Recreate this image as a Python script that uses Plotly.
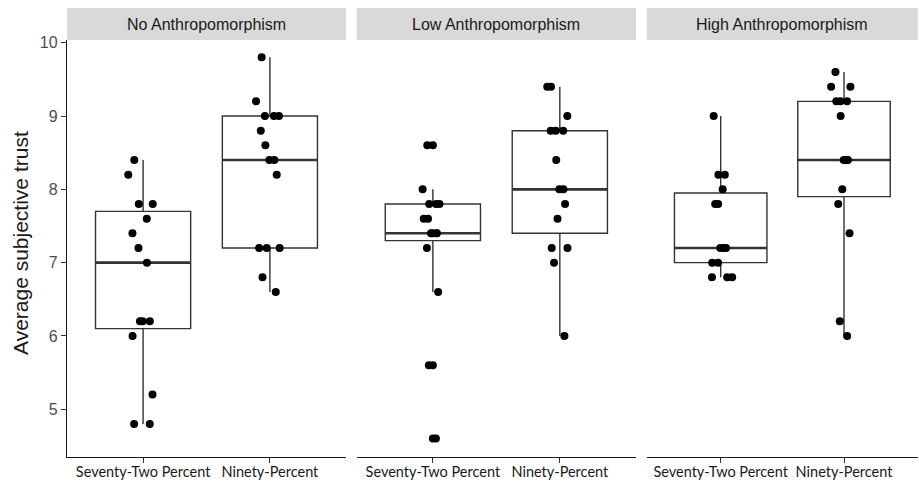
import numpy as np
import plotly.graph_objects as go

# Facets and the two feedback conditions shown in each facet
panels = ["No Anthropomorphism", "Low Anthropomorphism", "High Anthropomorphism"]
conditions = ["Seventy-Two Percent", "Ninety-Percent"]
y_ticks = [5, 6, 7, 8, 9, 10]

# Average subjective trust per participant
no_seventy_two = [8.4, 8.2, 7.8, 7.8, 7.6, 7.4, 7.2, 7.0, 6.2, 6.2, 6.2, 6.0, 5.2, 4.8, 4.8]
no_ninety = [9.8, 9.2, 9.0, 9.0, 9.0, 8.8, 8.6, 8.4, 8.4, 8.2, 7.2, 7.2, 7.2, 6.8, 6.6]
low_seventy_two = [8.6, 8.0, 7.8, 7.8, 7.8, 7.6, 7.6, 7.4, 7.4, 7.4, 7.4, 7.2, 6.6, 5.6, 4.6]
low_ninety = [9.4, 9.4, 9.0, 8.8, 8.8, 8.8, 8.4, 8.0, 8.0, 7.8, 7.6, 7.2, 7.2, 7.0, 6.0]
high_seventy_two = [9.0, 8.2, 8.2, 8.0, 7.8, 7.8, 7.2, 7.2, 7.2, 7.0, 7.0, 6.8, 6.8, 6.8]
high_ninety = [9.6, 9.4, 9.4, 9.2, 9.2, 9.2, 9.0, 8.4, 8.4, 8.4, 8.0, 7.8, 7.4, 6.2, 6.0]

groups = [
    [no_seventy_two, no_ninety],
    [low_seventy_two, low_ninety],
    [high_seventy_two, high_ninety],
]

BOX_W = 0.75
LINE = "#333333"
W, H = 919, 485

# Panel placement in pixels (left, right), shared top/bottom
panel_px = [(67, 346), (356.7, 636), (646.7, 918)]
top_px, bottom_px = 40, 456.7
strip_top_px = 8


def boxstats(vals):
    v = np.asarray(vals, dtype=float)
    q1, med, q3 = np.percentile(v, [25, 50, 75])
    iqr = q3 - q1
    lo = v[v >= q1 - 1.5 * iqr].min()
    hi = v[v <= q3 + 1.5 * iqr].max()
    out = v[(v < lo) | (v > hi)]
    return q1, med, q3, lo, hi, out


fig = go.Figure()

for p, panel_groups in enumerate(groups):
    xa = "x" if p == 0 else f"x{p + 1}"
    ya = "y" if p == 0 else f"y{p + 1}"
    for pos, vals in enumerate(panel_groups):
        q1, med, q3, lo, hi, out = boxstats(vals)
        # box with whiskers
        fig.add_trace(go.Box(
            x=[pos], q1=[q1], median=[med], q3=[q3],
            lowerfence=[lo], upperfence=[hi],
            width=BOX_W, whiskerwidth=0, boxpoints=False,
            fillcolor="white", line=dict(color=LINE, width=1.4),
            xaxis=xa, yaxis=ya, showlegend=False, hoverinfo="skip",
        ))
        # heavier median bar
        fig.add_trace(go.Box(
            x=[pos], q1=[med], median=[med], q3=[med],
            lowerfence=[med], upperfence=[med],
            width=BOX_W, whiskerwidth=0, boxpoints=False,
            fillcolor="rgba(0,0,0,0)", line=dict(color=LINE, width=2.6),
            xaxis=xa, yaxis=ya, showlegend=False, hoverinfo="skip",
        ))
        # outliers at the box centre
        if len(out):
            fig.add_trace(go.Box(
                x=[pos] * len(out), y=out, boxpoints="all", jitter=0, pointpos=0,
                width=BOX_W, fillcolor="rgba(0,0,0,0)",
                line=dict(color="rgba(0,0,0,0)", width=0),
                marker=dict(color="black", size=8),
                xaxis=xa, yaxis=ya, showlegend=False, hoverinfo="skip",
            ))
        # jittered observations
        fig.add_trace(go.Box(
            x=[pos] * len(vals), y=vals, boxpoints="all", jitter=0.32, pointpos=0,
            width=BOX_W, fillcolor="rgba(0,0,0,0)",
            line=dict(color="rgba(0,0,0,0)", width=0),
            marker=dict(color="black", size=8),
            xaxis=xa, yaxis=ya, showlegend=False, hoverinfo="skip",
        ))

y_dom = [1 - bottom_px / H, 1 - top_px / H]
y_range = [4.353, 10.037]

layout = dict(
    template="none",
    width=W, height=H,
    margin=dict(l=0, r=0, t=0, b=0, pad=0, autoexpand=False),
    paper_bgcolor="white", plot_bgcolor="white",
    boxmode="overlay",
    font=dict(family="Liberation Sans, Arial, sans-serif", color="#1A1A1A"),
    shapes=[], annotations=[],
)

for p, (x0, x1) in enumerate(panel_px):
    xk = "xaxis" if p == 0 else f"xaxis{p + 1}"
    yk = "yaxis" if p == 0 else f"yaxis{p + 1}"
    xa = "x" if p == 0 else f"x{p + 1}"
    ya = "y" if p == 0 else f"y{p + 1}"
    layout[xk] = dict(
        domain=[x0 / W, x1 / W], anchor=ya, range=[-0.6, 1.6],
        tickmode="array", tickvals=[0, 1], ticktext=conditions,
        showline=True, linecolor="#1A1A1A", linewidth=1.3,
        ticks="outside", ticklen=5, tickcolor=LINE, tickwidth=1.1,
        ticklabelstandoff=-3,
        showgrid=False, zeroline=False, automargin=False,
        tickfont=dict(family="Lato, sans-serif", size=14.5, color="#1A1A1A"),
    )
    layout[yk] = dict(
        domain=y_dom, anchor=xa, range=y_range,
        tickmode="array", tickvals=y_ticks,
        showgrid=False, zeroline=False, automargin=False,
        showline=(p == 0), linecolor="#1A1A1A", linewidth=1.3,
        ticks="outside" if p == 0 else "", ticklen=5, tickcolor=LINE, tickwidth=1.1,
        showticklabels=(p == 0),
        tickfont=dict(family="Liberation Sans, Arial, sans-serif", size=16, color="#4D4D4D"),
    )
    # facet strip
    layout["shapes"].append(dict(
        type="rect", xref="paper", yref="paper",
        x0=x0 / W, x1=x1 / W, y0=1 - top_px / H, y1=1 - strip_top_px / H,
        fillcolor="#D9D9D9", line=dict(width=0), layer="below",
    ))
    layout["annotations"].append(dict(
        text=panels[p], xref="paper", yref="paper",
        x=(x0 + x1) / 2 / W, y=1 - (top_px + strip_top_px) / 2 / H,
        xanchor="center", yanchor="middle", showarrow=False,
        font=dict(size=16, color="#1A1A1A"),
    ))

layout["annotations"].append(dict(
    text="Average subjective trust", textangle=-90,
    xref="paper", yref="paper", x=20 / W, y=1 - 243 / H,
    xanchor="center", yanchor="middle", showarrow=False,
    font=dict(size=21, color="#1A1A1A"),
))

fig.update_layout(**layout)
fig.write_html("out.html")
